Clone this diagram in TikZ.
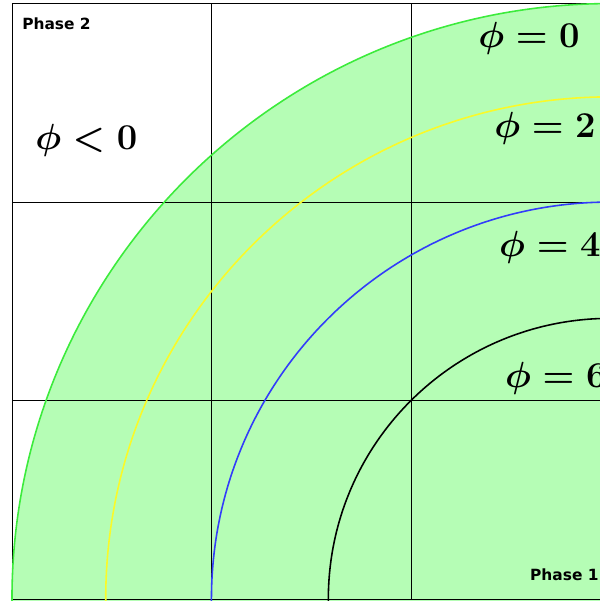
\documentclass[tikz,border=0pt]{standalone}
\usepackage{amsmath, amssymb}
\usepackage{fontspec}
\newfontfamily\phasefont{DejaVu Sans}
\usepackage{tikz}
\usetikzlibrary{positioning}

\definecolor{zonegreen}{RGB}{181,253,181}
\definecolor{linegreen}{RGB}{60,235,60}
\definecolor{lineyellow}{RGB}{250,250,40}
\definecolor{lineblue}{RGB}{50,60,250}

\begin{document}
\begin{tikzpicture}[xscale=4,yscale=3.98,
	philabel/.style={anchor=west,inner sep=0pt,font=\fontsize{21}{24}\selectfont\boldmath},
	phaselabel/.style={anchor=west,inner sep=0pt,font=\phasefont\bfseries\fontsize{8.8}{10}\selectfont}]

			\useasboundingbox (-0.06,-0.01) rectangle (2.947,3.018);
			\clip (-0.06,-0.01) rectangle (2.947,3.018);

			\fill[zonegreen] (3,0) circle[radius=3];
			\draw[thin] (0,0) grid (3,3);

			\draw[linegreen,line width=0.9pt] (3,0) circle[radius=3];
			\draw[lineyellow,line width=0.9pt] (3,0) circle[radius=2.53];
			\draw[lineblue,line width=0.9pt] (3,0) circle[radius=2];
			\draw[black,line width=0.9pt] (3,0) circle[radius=1.414];

			\node[phaselabel] (ph2) at (0.05,2.9) {Phase 2};
			\node[phaselabel] (ph1) at (2.596,0.121) {Phase 1};

			\node[philabel] (neg) at (0.115,2.312) {$\phi < 0$};
			\node[philabel] (p0) at (2.336,2.826) {$\phi = 0$};
			\node[philabel] (p2) at (2.416,2.373) {$\phi = 2$};
			\node[philabel] (p4) at (2.441,1.773) {$\phi = 4$};
			\node[philabel] (p6) at (2.471,1.113) {$\phi = 6$};

		\end{tikzpicture}
\end{document}
